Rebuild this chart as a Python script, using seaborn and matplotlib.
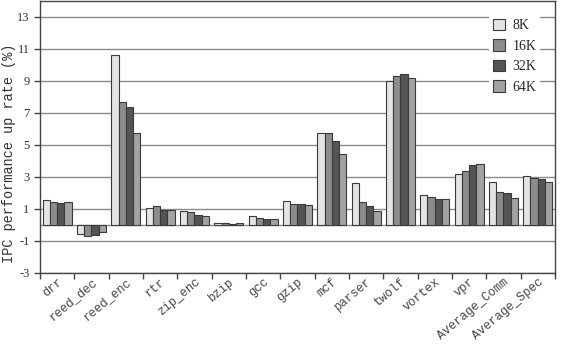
import matplotlib
matplotlib.use("Agg")
import matplotlib.pyplot as plt
import seaborn as sns
import pandas as pd

benchmarks = ["drr", "reed_dec", "reed_enc", "rtr", "zip_enc", "bzip", "gcc",
              "gzip", "mcf", "parser", "twolf", "vortex", "vpr",
              "Average_Comm", "Average_Spec"]
sizes = ["8K", "16K", "32K", "64K"]

ipc_8k = [1.55, -0.55, 10.6, 1.08, 0.9, 0.1, 0.56, 1.48, 5.73, 2.6, 9.0, 1.87, 3.19, 2.71, 3.08]
ipc_16k = [1.46, -0.68, 7.67, 1.19, 0.79, 0.15, 0.46, 1.31, 5.73, 1.46, 9.27, 1.77, 3.38, 2.08, 2.96]
ipc_32k = [1.4, -0.6, 7.35, 0.94, 0.63, 0.05, 0.38, 1.3, 5.27, 1.21, 9.44, 1.6, 3.75, 1.98, 2.85]
ipc_64k = [1.42, -0.47, 5.77, 0.94, 0.58, 0.12, 0.36, 1.25, 4.44, 0.9, 9.17, 1.6, 3.79, 1.67, 2.71]

colors = ["#e4e4e4", "#8c8c8c", "#545454", "#a2a2a2"]

# long-form table for seaborn
rows = []
for size, vals in zip(sizes, [ipc_8k, ipc_16k, ipc_32k, ipc_64k]):
    for b, v in zip(benchmarks, vals):
        rows.append({"bench": b, "size": size, "ipc": v})
df = pd.DataFrame(rows)

sns.set_style("white")
fig = plt.figure(figsize=(5.69, 3.46), dpi=100)
ax = fig.add_axes([0.0703, 0.211, 0.905, 0.787])

# gridlines behind bars
ax.set_axisbelow(True)
ax.yaxis.grid(True, color="#8a8a8a", linewidth=1.0)
ax.axhline(0, color="#8a8a8a", linewidth=1.0, zorder=0.5)

sns.barplot(data=df, x="bench", y="ipc", hue="size", order=benchmarks,
            hue_order=sizes, palette=colors, width=0.85, gap=0,
            edgecolor="#3a3a3a", linewidth=0.8, ax=ax, legend=True)

ax.set_ylim(-3, 14)
ax.set_xlim(-0.5, len(benchmarks) - 0.5)
ax.set_yticks(range(-3, 14, 2))
ax.set_yticklabels([str(t) for t in range(-3, 14, 2)],
                   fontfamily="Liberation Serif", fontsize=9, color="#333333")

# category boundaries as ticks, names at centers
ax.set_xticks([i - 0.5 for i in range(len(benchmarks) + 1)])
ax.set_xticklabels([])
ax.set_xticks(range(len(benchmarks)), minor=True)
ax.set_xticklabels(benchmarks, minor=True, rotation=40, ha="right",
                   rotation_mode="anchor", fontfamily="Liberation Mono",
                   fontsize=8.8, color="#444444")
ax.tick_params(axis="x", which="minor", length=0, pad=2)
ax.tick_params(axis="both", which="major", direction="out", length=4,
               width=1, color="#444444")
ax.xaxis.set_ticks_position("bottom")
ax.yaxis.set_ticks_position("left")

ax.set_xlabel("")
ax.set_ylabel("IPC performance up rate (%)", fontfamily="Liberation Mono",
              fontsize=9.8, color="#333333")
ax.yaxis.set_label_coords(-0.047, 0.44)

for sp in ax.spines.values():
    sp.set_color("#444444")
    sp.set_linewidth(1.0)

ax.legend(loc="upper right", bbox_to_anchor=(0.985, 0.975), frameon=True,
          fancybox=False, edgecolor="none", facecolor="white", framealpha=1,
          handlelength=0.9, handleheight=0.9, handletextpad=0.5,
          labelspacing=0.5, borderpad=0.3, title=None,
          prop={"family": "Liberation Serif", "size": 10})

fig.savefig("out.png", dpi=100)
